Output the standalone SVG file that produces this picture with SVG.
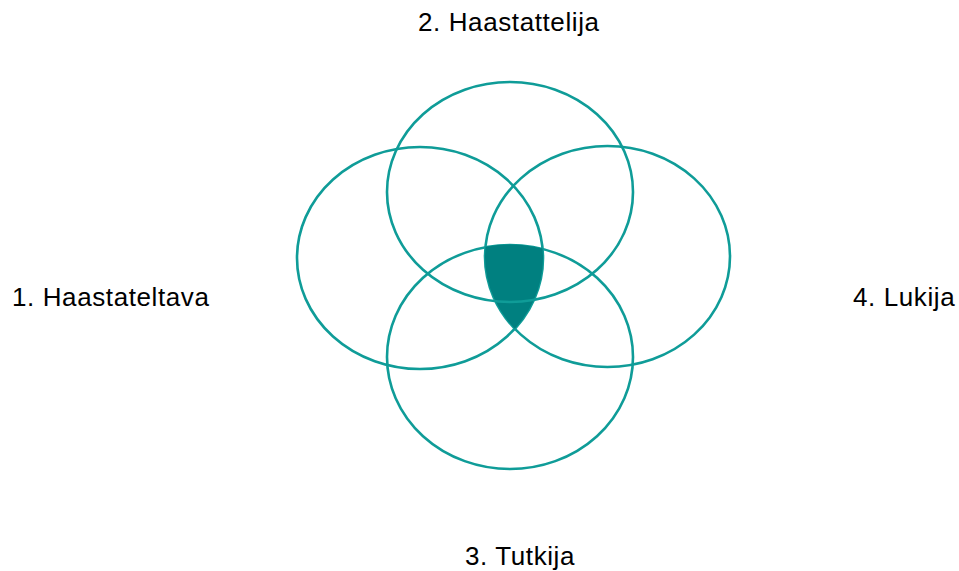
<svg xmlns="http://www.w3.org/2000/svg" width="959" height="571" viewBox="0 0 959 571">
<style>
.ring{fill:none;stroke:#0f9c98;stroke-width:2.6}
.lbl{font-family:"Liberation Sans",Arial,sans-serif;font-size:26px;letter-spacing:0.6px;fill:#000}
</style>
<defs>
<clipPath id="cL"><ellipse cx="420" cy="258" rx="123" ry="111"/></clipPath>
<clipPath id="cR"><ellipse cx="607.5" cy="256.5" rx="122.5" ry="110.5"/></clipPath>
</defs>
<rect width="959" height="571" fill="#fff"/>
<g id="node1"><ellipse class="ring" cx="420" cy="258" rx="123" ry="111"/><text class="lbl" x="12" y="306">1. Haastateltava</text></g>
<g id="node4"><ellipse class="ring" cx="607.5" cy="256.5" rx="122.5" ry="110.5"/><text class="lbl" x="853" y="306">4. Lukija</text></g>
<g id="node3"><ellipse class="ring" cx="510" cy="357" rx="123" ry="112"/><text class="lbl" x="465" y="565">3. Tutkija</text></g>
<g id="overlap"><g clip-path="url(#cL)"><g clip-path="url(#cR)"><ellipse cx="510" cy="357" rx="123.5" ry="112.5" fill="#008080"/></g></g></g>
<g id="node2"><ellipse class="ring" cx="510" cy="192" rx="123" ry="110"/><text class="lbl" x="418" y="31">2. Haastattelija</text></g>
<g id="connectors"/>
</svg>
